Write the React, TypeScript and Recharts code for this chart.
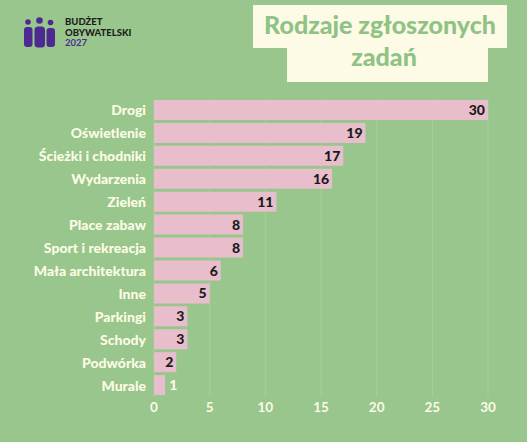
import React from 'react';
import { BarChart, Bar, XAxis, YAxis, CartesianGrid, LabelList } from 'recharts';

const categories = [
  'Drogi',
  'Oświetlenie',
  'Ścieżki i chodniki',
  'Wydarzenia',
  'Zieleń',
  'Place zabaw',
  'Sport i rekreacja',
  'Mała architektura',
  'Inne',
  'Parkingi',
  'Schody',
  'Podwórka',
  'Murale',
];
const counts = [30, 19, 17, 16, 11, 8, 8, 6, 5, 3, 3, 2, 1];
const xTicks = [0, 5, 10, 15, 20, 25, 30];

const rows = categories.map((name, i) => ({ name, count: counts[i] }));

const BG = '#98c68c';
const CREAM = '#fdfbe5';
const PINK = '#e8bdcc';
const PURPLE = '#4d2a92';
const FONT = 'Lato, "Open Sans", sans-serif';

// value sits inside the bar end, unless the bar is too short for it
function ValueLabel(props: any) {
  const { x, y, width, height, value } = props;
  const inside = value >= 2;
  return (
    <text
      x={inside ? x + width - 3 : x + width + 4}
      y={y + height / 2}
      dy="0.36em"
      textAnchor={inside ? 'end' : 'start'}
      fontFamily={FONT}
      fontWeight={900}
      fontSize={14}
      fill={inside ? '#1b1b1b' : CREAM}
    >
      {value}
    </text>
  );
}

function Header() {
  return (
    <svg width={527} height={95} style={{ position: 'absolute', left: 0, top: 0, pointerEvents: 'none' }}>
      {/* logo */}
      <circle cx={28} cy={22} r={2.8} fill={PURPLE} />
      <circle cx={39.5} cy={20.5} r={3.3} fill={PURPLE} />
      <circle cx={50.5} cy={22.5} r={2.8} fill={PURPLE} />
      <rect x={24} y={27} width={8.5} height={20} rx={3} fill={PURPLE} />
      <rect x={34.5} y={26.5} width={10.5} height={21} rx={3.5} fill={PURPLE} />
      <rect x={46.5} y={28} width={8.5} height={19} rx={3} fill={PURPLE} />
      <text x={65} y={25} fontFamily={FONT} fontWeight={900} fontSize={9.5} fill="#1e1e1e">BUDŻET</text>
      <text x={65} y={36} fontFamily={FONT} fontWeight={900} fontSize={9.5} fill="#1e1e1e">OBYWATELSKI</text>
      <text x={65} y={46} fontFamily={FONT} fontWeight={700} fontSize={9.5} fill={PURPLE}>2027</text>

      {/* title box */}
      <rect x={253} y={5} width={254} height={43} fill={CREAM} />
      <rect x={287} y={46} width={201} height={36} fill={CREAM} />
      <text x={380} y={34} textAnchor="middle" fontFamily={FONT} fontWeight={900} fontSize={25} fill="#8fc386">
        Rodzaje zgłoszonych
      </text>
      <text x={384} y={66} textAnchor="middle" fontFamily={FONT} fontWeight={900} fontSize={25} fill="#8fc386">
        zadań
      </text>
    </svg>
  );
}

export default function App() {
  return (
    <div style={{ position: 'fixed', left: 0, top: 0, width: 527, height: 442, background: BG }}>
      <BarChart
        width={527}
        height={442}
        data={rows}
        layout="vertical"
        margin={{ top: 99, right: 39, bottom: 0, left: 0 }}
      >
        <CartesianGrid horizontal={false} stroke="#a6cf9a" strokeWidth={1} />
        <XAxis
          type="number"
          domain={[0, 30]}
          ticks={xTicks}
          axisLine={false}
          tickLine={false}
          tickSize={0}
          tickMargin={5}
          height={45}
          interval={0}
          tick={{ fill: CREAM, fontSize: 13.5, fontFamily: FONT, fontWeight: 700 }}
        />
        <YAxis
          type="category"
          dataKey="name"
          width={154}
          axisLine={false}
          tickLine={false}
          tickSize={0}
          tickMargin={8}
          interval={0}
          tick={{ fill: CREAM, fontSize: 14, fontFamily: FONT, fontWeight: 900 }}
        />
        <Bar dataKey="count" fill={PINK} barSize={20} isAnimationActive={false}>
          <LabelList dataKey="count" content={ValueLabel} />
        </Bar>
      </BarChart>
      <Header />
    </div>
  );
}
